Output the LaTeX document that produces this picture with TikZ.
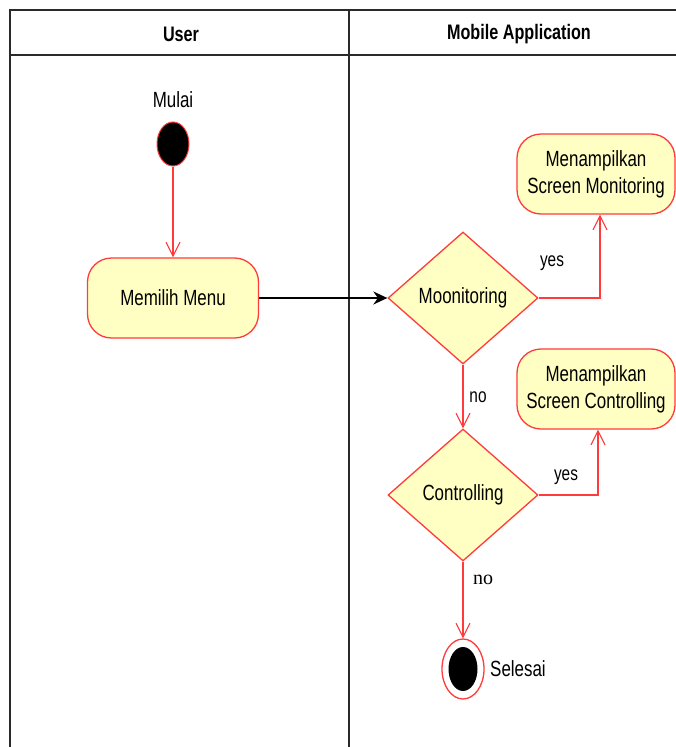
\documentclass[tikz,border=0pt]{standalone}
\usepackage{fontspec}
\setmainfont{Liberation Sans}[FakeStretch=0.77]
\newfontfamily\labelserif{Liberation Serif}
\usetikzlibrary{arrows.meta,shapes.geometric}

\definecolor{umlred}{HTML}{FF3B3B}
\definecolor{umlfill}{HTML}{FFFFC3}
\definecolor{lanegray}{HTML}{2A2A2A}

\tikzset{
  lane/.style={draw=lanegray, line width=1.5pt},
  lanetitle/.style={font=\fontsize{21}{22}\selectfont\bfseries, anchor=center},
  actbox/.style={draw=umlred, fill=umlfill, line width=1.3pt, rounded corners=24pt,
    minimum width=171pt, minimum height=80pt, align=center,
    font=\fontsize{22}{27}\selectfont, inner sep=0pt},
  decision/.style={draw=umlred, fill=umlfill, line width=1.3pt, diamond, aspect=1.14,
    minimum width=150pt, minimum height=132pt, inner sep=0pt,
    font=\fontsize{22}{24}\selectfont},
  startdot/.style={ellipse, draw=umlred, fill=black, line width=1pt,
    minimum width=32pt, minimum height=44pt, inner sep=0pt},
  enddot/.style={ellipse, draw=umlred, fill=white, line width=1.3pt,
    minimum width=42pt, minimum height=60pt, inner sep=0pt},
  enddotcore/.style={ellipse, fill=black, minimum width=29pt, minimum height=44pt, inner sep=0pt},
  flow/.style={draw=umlred, line width=1.1pt, -{Straight Barb[length=14pt, width=14pt, line width=1.1pt]}},
  mainflow/.style={draw=black, line width=1.6pt, -{Stealth[length=14pt, width=13pt]}},
  txt/.style={font=\fontsize{22}{24}\selectfont, inner sep=0pt},
  guard/.style={font=\fontsize{20}{22}\selectfont, inner sep=0pt},
}

\begin{document}
\begin{tikzpicture}[x=1pt, y=-1pt]
  \useasboundingbox (0,0) rectangle (676,747);

  % swimlane frame
  \draw[lane] (10,747) -- (10,10) -- (676,10);
  \draw[lane] (10,55) -- (676,55);
  \draw[lane] (349,10) -- (349,747);
  \node[lanetitle] (laneuser) at (181,34) {User};
  \node[lanetitle] (laneapp) at (519,34) {Mobile Application};

  % user lane
  \node[txt] (mulai) at (173,100) {Mulai};
  \node[startdot] (start) at (173,144) {};
  \node[actbox] (menu) at (173,298) {Memilih Menu};

  % application lane
  \node[decision] (mon) at (463,298) {Moonitoring};
  \node[decision] (ctl) at (463,495) {Controlling};
  \node[actbox, minimum width=158pt] (scrmon) at (596,174) {Menampilkan\\Screen Monitoring};
  \node[actbox, minimum width=158pt] (scrctl) at (596,389) {Menampilkan\\Screen Controlling};
  \node[enddot] (stop) at (463,669) {};
  \node[enddotcore] (stopcore) at (463,669) {};
  \node[txt, anchor=west] (selesai) at (490,669) {Selesai};

  % flows
  \draw[flow] (start) -- (menu);
  \draw[mainflow] (menu) -- (mon);
  \coordinate (monturn) at (600,298);
  \coordinate (ctlturn) at (598,495);
  \draw[flow] (mon.east) -- (monturn) -- (scrmon.south -| monturn);
  \draw[flow] (ctl.east) -- (ctlturn) -- (scrctl.south -| ctlturn);
  \draw[flow] (mon.south) -- (ctl.north);
  \draw[flow] (ctl.south) -- (stop.north);

  % guards
  \node[guard] (yes1) at (552,263) {yes};
  \node[guard] (no1) at (478,397) {no};
  \node[guard] (yes2) at (566,477) {yes};
  \node[guard, font=\labelserif\fontsize{20}{22}\selectfont] (no2) at (483,580) {no};
\end{tikzpicture}
\end{document}
